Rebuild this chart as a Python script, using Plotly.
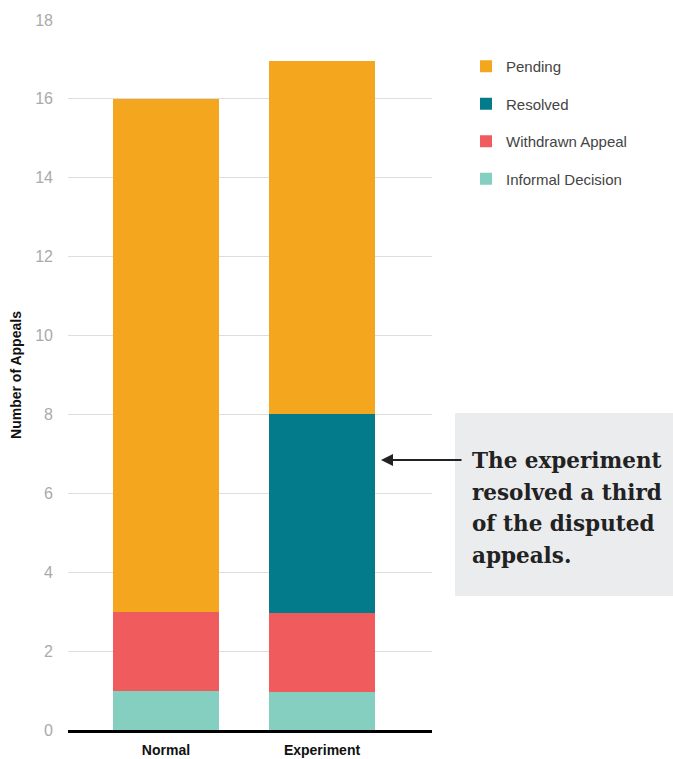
import plotly.graph_objects as go

categories = ["Normal", "Experiment"]
informal = [1, 0.96]
withdrawn = [2, 2.0]
resolved = [0, 5.04]
pending = [13, 8.95]
series_names = ["Informal Decision", "Withdrawn Appeal", "Resolved", "Pending"]
colors = ["#84CFC0", "#F05B5E", "#047B8A", "#F4A71E"]
tick_vals = [0, 2, 4, 6, 8, 10, 12, 14, 16, 18]
note_lines = ["The experiment", "resolved a third", "of the disputed", "appeals."]

W, H = 673, 759
L, R, T, B = 68, 241, 20, 29
pw, ph = W - L - R, H - T - B

def px_x(x):
    return (x - L) / pw

def px_y(y):
    return (H - B - y) / ph

fig = go.Figure()
n = len(series_names)
for i, (name, vals, col) in enumerate(zip(series_names, [informal, withdrawn, resolved, pending], colors)):
    fig.add_trace(go.Bar(x=categories, y=vals, name=name, marker_color=col,
                         marker_line_width=0, width=0.68, legendgroup=name,
                         legendrank=n - i))

fig.update_layout(
    width=W, height=H, margin=dict(l=L, r=R, t=T, b=B, autoexpand=False),
    barmode="stack", plot_bgcolor="white", paper_bgcolor="white",
    font=dict(family="Liberation Sans, Arial, sans-serif"),
    legend=dict(x=px_x(466), y=px_y(50), xanchor="left", yanchor="top",
                traceorder="grouped", tracegroupgap=15,
                font=dict(size=15, color="#444"), bgcolor="rgba(0,0,0,0)"),
    xaxis=dict(range=[-0.628, 1.705], showline=True, linecolor="black", linewidth=3,
               showgrid=False, ticks="",
               tickvals=categories, ticktext=["<b>" + c + "</b>" for c in categories],
               tickfont=dict(size=14, color="#111", family="Liberation Sans, Arial, sans-serif"),
               ticklabelstandoff=5, automargin=False),
    yaxis=dict(range=[0, 18], tickvals=tick_vals, showgrid=True, gridcolor="#dddddd", gridwidth=1,
               zeroline=False, ticks="", tickfont=dict(size=16, color="#aaaaaa"),
               ticklabelstandoff=14, automargin=False,
               title=dict(text="<b>Number of Appeals</b>", font=dict(size=14, color="#111"), standoff=10)),
)

fig.add_shape(type="rect", xref="paper", yref="paper",
              x0=px_x(455), x1=px_x(673), y0=px_y(596), y1=px_y(413),
              fillcolor="#ebecee", line_width=0, layer="above")

line_ys = [460, 492, 523, 555]
for txt, ly in zip(note_lines, line_ys):
    fig.add_annotation(xref="paper", yref="paper", x=px_x(470), y=px_y(ly),
                       xanchor="left", yanchor="middle", showarrow=False,
                       text="<b>" + txt + "</b>",
                       font=dict(family="DejaVu Serif, serif", size=21.5, color="#222"))

fig.add_annotation(xref="paper", yref="paper", x=px_x(381), y=px_y(460),
                   ax=82, ay=0, showarrow=True, arrowhead=2, arrowsize=1.2,
                   arrowwidth=2, arrowcolor="#222", text="")

fig.write_html("out.html")
